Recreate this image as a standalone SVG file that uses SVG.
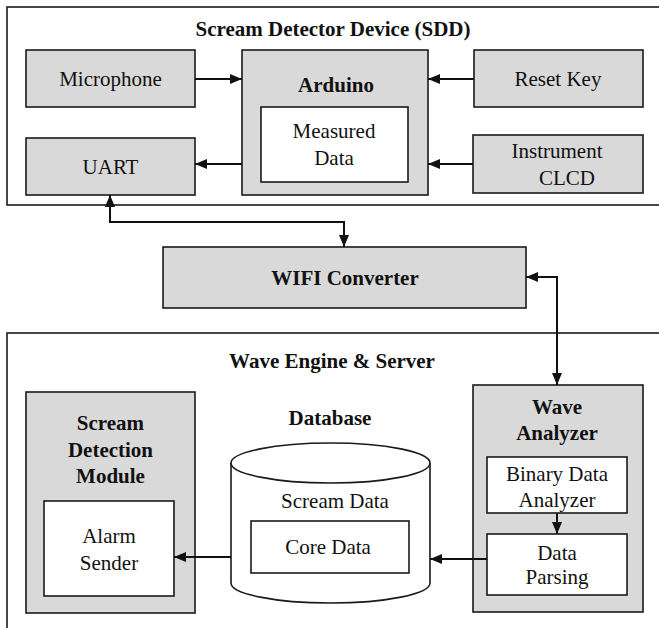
<svg xmlns="http://www.w3.org/2000/svg" width="659" height="628" viewBox="0 0 659 628">
<style>
.frame{fill:#fff;stroke:#1a1a1a;stroke-width:1.6}
.box{fill:#d9d9d9;stroke:#1a1a1a;stroke-width:1.6}
.inner{fill:#fff;stroke:#1a1a1a;stroke-width:1.6}
.t{font-family:"Liberation Serif","Times New Roman",serif;font-size:21px;fill:#111;text-anchor:middle}
.b{font-weight:bold}
.c{fill:none;stroke:#111;stroke-width:2}
</style>
<defs>
<marker id="ah" viewBox="0 0 12 10" refX="12" refY="5" markerWidth="12" markerHeight="10" markerUnits="userSpaceOnUse" orient="auto-start-reverse">
<path d="M0,0 L12,5 L0,10 z" fill="#111"/>
</marker>
</defs>
<g id="sdd-frame">
<rect class="frame" x="7" y="7" width="660" height="198"/>
<text class="t b" x="333" y="36">Scream Detector  Device (SDD)</text>
</g>
<g id="wave-frame">
<rect class="frame" x="7" y="333" width="660" height="310"/>
<text class="t b" x="332" y="368">Wave Engine &amp; Server</text>
</g>
<g id="microphone">
<rect class="box" x="26" y="50" width="169" height="57"/>
<text class="t" x="110.5" y="86">Microphone</text>
</g>
<g id="uart">
<rect class="box" x="26" y="138" width="169" height="57"/>
<text class="t" x="110.5" y="174">UART</text>
</g>
<g id="arduino">
<rect class="box" x="242" y="50" width="186" height="145"/>
<text class="t b" x="336" y="92">Arduino</text>
<rect class="inner" x="261" y="107" width="147" height="75"/>
<text class="t" x="334" y="138">Measured</text>
<text class="t" x="334" y="165">Data</text>
</g>
<g id="reset-key">
<rect class="box" x="474" y="50" width="169" height="57"/>
<text class="t" x="558" y="86">Reset  Key</text>
</g>
<g id="instrument-clcd">
<rect class="box" x="473" y="135" width="170" height="58"/>
<text class="t" x="557" y="158">Instrument</text>
<text class="t" x="567" y="185">CLCD</text>
</g>
<g id="wifi-converter">
<rect class="box" x="163" y="247" width="363" height="61"/>
<text class="t b" x="345" y="285">WIFI Converter</text>
</g>
<g id="scream-detection-module">
<rect class="box" x="26" y="392" width="169" height="221"/>
<text class="t b" x="110.5" y="430">Scream</text>
<text class="t b" x="110.5" y="457">Detection</text>
<text class="t b" x="110.5" y="483">Module</text>
<rect class="inner" x="44" y="501" width="130" height="95"/>
<text class="t" x="109" y="543">Alarm</text>
<text class="t" x="109" y="570">Sender</text>
</g>
<g id="database">
<text class="t b" x="330" y="425">Database</text>
<path d="M231,463 V583 A99.5,20 0 0 0 430,583 V463" fill="#fff" stroke="#1a1a1a" stroke-width="1.6"/>
<ellipse cx="330.5" cy="463" rx="99.5" ry="20" fill="#fff" stroke="#1a1a1a" stroke-width="1.6"/>
<text class="t" x="335" y="508">Scream Data</text>
<rect class="inner" x="251" y="521" width="158" height="52"/>
<text class="t" x="328" y="554">Core Data</text>
</g>
<g id="wave-analyzer">
<rect class="box" x="473" y="385" width="170" height="227"/>
<text class="t b" x="557" y="414">Wave</text>
<text class="t b" x="557" y="440">Analyzer</text>
<rect class="inner" x="487" y="457" width="140" height="56"/>
<text class="t" x="557" y="481">Binary Data</text>
<text class="t" x="557" y="507">Analyzer</text>
<rect class="inner" x="487" y="534" width="140" height="61"/>
<text class="t" x="557" y="560">Data</text>
<text class="t" x="557" y="584">Parsing</text>
</g>
<g id="connectors">
<path class="c" d="M195,79 H242" marker-end="url(#ah)"/>
<path class="c" d="M474,79 H428" marker-end="url(#ah)"/>
<path class="c" d="M473,164 H428" marker-end="url(#ah)"/>
<path class="c" d="M242,164 H195" marker-end="url(#ah)"/>
<path class="c" d="M110,195 V222 H344 V247" marker-start="url(#ah)" marker-end="url(#ah)"/>
<path class="c" d="M526,277 H557 V385" marker-start="url(#ah)" marker-end="url(#ah)"/>
<path class="c" d="M557,513 V534" marker-end="url(#ah)"/>
<path class="c" d="M487,559 H430" marker-end="url(#ah)"/>
<path class="c" d="M231,557 H174" marker-end="url(#ah)"/>
</g>
</svg>
